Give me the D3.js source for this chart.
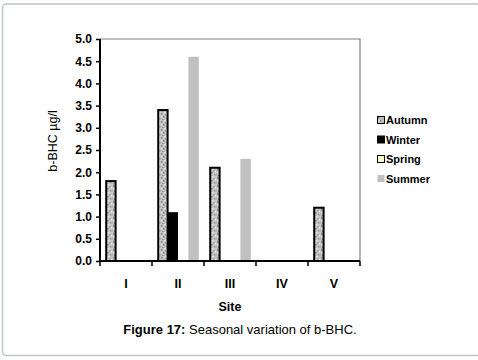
<!DOCTYPE html>
<html>
<head>
<meta charset="utf-8">
<script src="https://cdn.jsdelivr.net/npm/d3@7"></script>
<style>
body { margin: 0; background: #fff; }
svg { display: block; font-family: Arial, "Liberation Sans", sans-serif; }
</style>
</head>
<body>
<svg id="chart" width="478" height="360"></svg>
<script>
const sites = ['I', 'II', 'III', 'IV', 'V'];
const seasons = ['Autumn', 'Winter', 'Spring', 'Summer'];
const autumn = [1.8, 3.4, 2.1, 0, 1.2];
const winter = [0, 1.1, 0, 0, 0];
const spring = [0, 0, 0, 0, 0];
const summer = [0, 4.6, 2.3, 0, 0];
const yTicks = [0, 0.5, 1, 1.5, 2, 2.5, 3, 3.5, 4, 4.5, 5];

const series = [autumn, winter, spring, summer];

const svg = d3.select('#chart');
const plotLeft = 100, plotRight = 360, plotTop = 39, plotBottom = 261;

// speckled fill for autumn
const defs = svg.append('defs');
const pat = defs.append('pattern')
	.attr('id', 'speckle')
	.attr('patternUnits', 'userSpaceOnUse')
	.attr('width', 8).attr('height', 8);
pat.append('rect').attr('width', 8).attr('height', 8).attr('fill', '#c4c4c4');
const specks = [[1, 1, '#888'], [5, 2, '#a0a0a0'], [3, 4, '#777'], [6, 6, '#999'], [0, 6, '#b0b0b0'], [2, 7, '#8a8a8a'], [7, 3, '#eee'], [4, 0, '#e6e6e6'], [1, 4, '#e0e0e0']];
specks.forEach(s => pat.append('rect').attr('x', s[0]).attr('y', s[1]).attr('width', 1.5).attr('height', 1.5).attr('fill', s[2]));

const fills = ['url(#speckle)', '#000', '#ffffcc', '#c0c0c0'];
const strokes = ['#000', '#000', '#000', 'none'];

// outer frame
svg.append('rect')
	.attr('x', 2.5).attr('y', 4).attr('width', 478).attr('height', 351.5)
	.attr('rx', 4)
	.attr('fill', 'none').attr('stroke', '#c0c4c4').attr('stroke-width', 1.5);

const x = d3.scaleBand().domain(sites).range([plotLeft, plotRight]);
const xs = d3.scaleBand().domain(seasons).range([0, x.bandwidth()]).paddingInner(0).paddingOuter(0.5);
const y = d3.scaleLinear().domain([0, 5]).range([plotBottom, plotTop]);

// plot box top/right
svg.append('path')
	.attr('d', `M${plotLeft},${plotTop}H${plotRight}V${plotBottom}`)
	.attr('fill', 'none').attr('stroke', '#808080').attr('stroke-width', 1.2);

// bars
seasons.forEach((s, k) => {
	const vals = series[k];
	svg.append('g').selectAll('rect')
		.data(sites.map((site, i) => ({ site, v: vals[i] })).filter(d => d.v > 0))
		.join('rect')
		.attr('x', d => x(d.site) + xs(s) + (k === 0 ? 1 : 0))
		.attr('y', d => y(d.v))
		.attr('width', xs.bandwidth() - (k === 0 ? 1 : 0))
		.attr('height', d => y(0) - y(d.v))
		.attr('fill', fills[k])
		.attr('stroke', strokes[k])
		.attr('stroke-width', k === 0 ? 2 : 0);
});

// y axis
const yAxis = svg.append('g')
	.attr('transform', `translate(${plotLeft},0)`)
	.call(d3.axisLeft(y).tickValues(yTicks).tickFormat(d3.format('.1f')).tickSize(4).tickPadding(4));
yAxis.select('.domain').attr('stroke-width', 2).attr('d', `M0,${plotTop}V${plotBottom}`);
yAxis.selectAll('.tick line').attr('stroke-width', 1.5);
yAxis.selectAll('text').attr('font-size', 12).attr('font-weight', 'bold').attr('fill', '#000')
	.attr('font-family', 'Arial, "Liberation Sans", sans-serif');

// x axis
const xAxis = svg.append('g').attr('transform', `translate(0,${plotBottom})`);
xAxis.append('line').attr('x1', plotLeft - 1).attr('x2', plotRight).attr('stroke', '#000').attr('stroke-width', 2);
xAxis.selectAll('line.tk')
	.data(sites.map(s => x(s)).concat([plotRight]))
	.join('line').attr('class', 'tk')
	.attr('x1', d => d).attr('x2', d => d).attr('y1', 0).attr('y2', 5)
	.attr('stroke', '#000').attr('stroke-width', 1.5);
xAxis.selectAll('text')
	.data(sites)
	.join('text')
	.attr('x', d => x(d) + x.bandwidth() / 2)
	.attr('y', 27)
	.attr('text-anchor', 'middle')
	.attr('font-size', 12.5).attr('font-weight', 'bold')
	.text(d => d);

svg.append('text')
	.attr('x', (plotLeft + plotRight) / 2).attr('y', 311)
	.attr('text-anchor', 'middle')
	.attr('font-size', 12.5).attr('font-weight', 'bold')
	.text('Site');

svg.append('text')
	.attr('transform', 'translate(57,141) rotate(-90)')
	.attr('text-anchor', 'middle')
	.attr('font-size', 12.5)
	.text('b-BHC µg/l');

// legend
const legend = svg.append('g').attr('transform', 'translate(377,116)');
seasons.forEach((s, k) => {
	const g = legend.append('g').attr('transform', `translate(0,${k * 19.5})`);
	g.append('rect')
		.attr('x', 0.5).attr('y', 0.5).attr('width', 7).attr('height', 7)
		.attr('fill', fills[k])
		.attr('stroke', strokes[k]).attr('stroke-width', 1);
	g.append('text')
		.attr('x', 9).attr('y', 8)
		.attr('font-size', 11).attr('font-weight', 'bold')
		.text(s);
});

// caption
const cap = svg.append('text')
	.attr('x', 240).attr('y', 334)
	.attr('text-anchor', 'middle')
	.attr('font-size', 13);
cap.append('tspan').attr('font-weight', 'bold').text('Figure 17:');
cap.append('tspan').text(' Seasonal variation of b-BHC.');
</script>
</body>
</html>
